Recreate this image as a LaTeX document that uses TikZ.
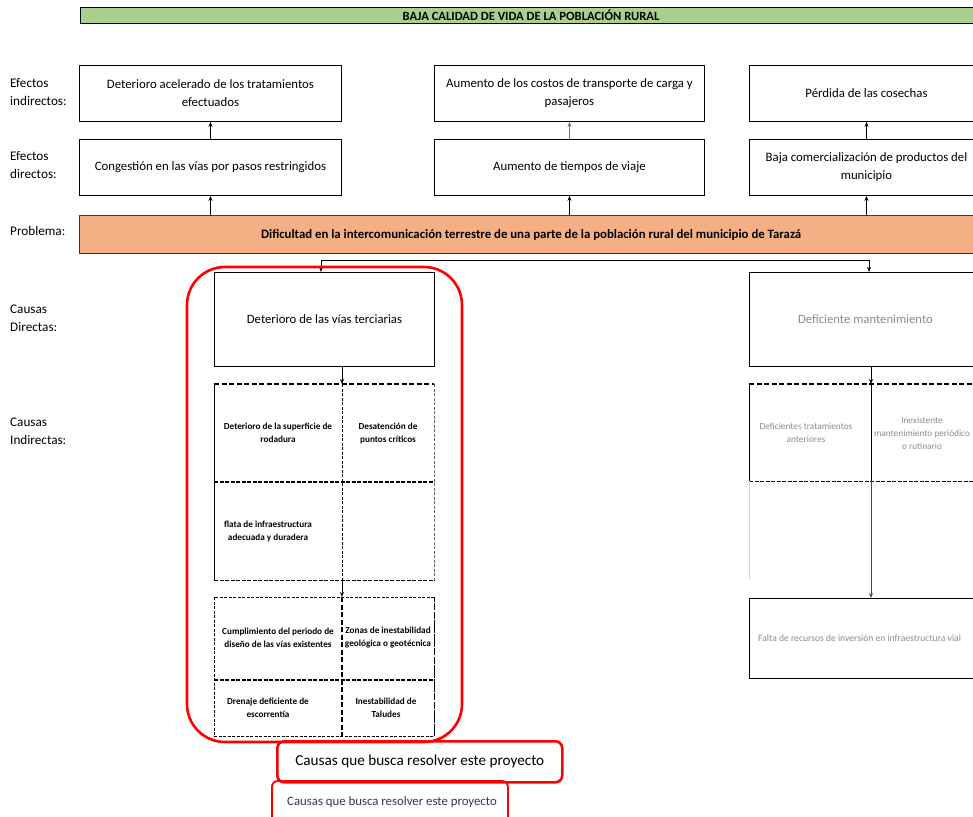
\documentclass[tikz,border=0pt]{standalone}
\usepackage{fontspec}
\setmainfont{Carlito}
\usetikzlibrary{arrows.meta}
\definecolor{hdrgreen}{RGB}{169,208,142}
\definecolor{probfill}{RGB}{244,176,132}
\definecolor{probline}{RGB}{192,0,0}
\definecolor{fadetext}{RGB}{140,140,140}
\definecolor{bluetext}{RGB}{45,55,95}
\definecolor{framered}{RGB}{255,0,0}
\begin{document}
\begin{tikzpicture}[x=1pt,y=-1pt,
  box/.style={draw, line width=0.9pt, align=center, inner sep=2pt, anchor=north west,
    font=\fontsize{12.8}{18}\selectfont},
  ghost/.style={draw=none, anchor=north west, inner sep=0pt},
  lbl/.style={anchor=west, align=left, inner sep=0pt, font=\fontsize{13.2}{18}\selectfont},
  cell/.style={align=center, inner sep=0pt, font=\fontsize{9.2}{13}\selectfont\bfseries},
  gcell/.style={align=center, inner sep=0pt, text=fadetext, font=\fontsize{9.3}{13}\selectfont},
  arr/.style={-{Stealth[length=5pt,width=4pt]}, line width=0.8pt},
  thickdash/.style={line width=1.6pt, dash pattern=on 5pt off 2.5pt},
  middash/.style={line width=1.1pt, dash pattern=on 4pt off 1.5pt},
  finedash/.style={line width=0.8pt, dash pattern=on 3pt off 1.5pt},
  redframe/.style={draw=framered, line width=2.6pt}
]
\useasboundingbox[fill=white] (0,0) rectangle (973,816);

% header
\node[box, fill=hdrgreen, line width=1.2pt, minimum width=900, minimum height=16] (hdr) at (80,7) {};
\node[font=\fontsize{12.6}{13}\selectfont\bfseries, inner sep=0pt] (hdrt) at (531,15.5) {BAJA CALIDAD DE VIDA DE LA POBLACIÓN RURAL};

% row labels
\node[lbl] (l1) at (10,92) {Efectos\\indirectos:};
\node[lbl] (l2) at (10,165) {Efectos\\directos:};
\node[lbl] (l3) at (10,231) {Problema:};
\node[lbl] (l4) at (10,318) {Causas\\Directas:};
\node[lbl] (l5) at (10,431) {Causas\\Indirectas:};

% effects
\node[box, minimum width=262, minimum height=56] (ei1) at (79,65) {Deterioro acelerado de los tratamientos\\efectuados};
\node[box, minimum width=270, minimum height=56] (ei2) at (434,65) {Aumento de los costos de transporte de carga y\\pasajeros};
\node[box, minimum width=234, minimum height=56] (ei3) at (749,65) {Pérdida de las cosechas};
\node[box, minimum width=262, minimum height=56] (ed1) at (79,139) {Congestión en las vías por pasos restringidos};
\node[box, minimum width=270, minimum height=56] (ed2) at (434,139) {Aumento de tiempos de viaje};
\node[box, minimum width=234, minimum height=56] (ed3) at (749,139) {Baja comercialización de productos del\\municipio};

% problem
\node[box, fill=probfill, draw=probline, line width=1.2pt, minimum width=903, minimum height=38,
  font=\fontsize{12.8}{14}\selectfont\bfseries] (prob) at (79,215)
  {Dificultad en la intercomunicación terrestre de una parte de la población rural del municipio de Tarazá};

\draw[arr] (ed1.north) -- (ei1.south);
\draw[arr, draw=black!55] (ed2.north) -- (ei2.south);
\draw[arr] (ed3.north) -- (ei3.south);
\draw[arr] (ed1.south |- prob.north) -- (ed1.south);
\draw[arr] (ed2.south |- prob.north) -- (ed2.south);
\draw[arr] (ed3.south |- prob.north) -- (ed3.south);

% direct causes
\node[box, minimum width=220, minimum height=94, font=\fontsize{12.7}{15}\selectfont] (dcl) at (214,272) {Deterioro de las vías terciarias};
\node[box, minimum width=232, minimum height=94, text=fadetext, font=\fontsize{12.7}{15}\selectfont] (dcr) at (749,272) {Deficiente mantenimiento};

\coordinate (jl) at (321,260);
\coordinate (jr) at (869,260);
\draw[line width=0.8pt] (jl) -- (jr);
\draw[arr] (jl) -- (jl |- dcl.north);
\draw[arr] (jr) -- (jr |- dcr.north);

% left indirect grid 1
\node[ghost, minimum width=220, minimum height=196] (g1) at (214,384) {};
\coordinate (g1m) at (342,384);
\draw[line width=1pt] (g1.north west) -- (g1.south west);
\draw[finedash, draw=black!60] (g1.north east) -- (g1.south east);
\draw[thickdash] (g1.north west) -- (g1.north east);
\draw[middash] (g1.south west) -- (g1.south east);
\draw[middash] (214,482) -- (434,482);
\draw[finedash] (g1m) -- (g1m |- g1.south);
\node[cell] (c11) at (278,433) {Deterioro de la superficie de\\rodadura};
\node[cell] (c12) at (388,433) {Desatención de\\puntos críticos};
\node[cell] (c21) at (268,531) {flata de infraestructura\\adecuada y duradera};
\draw[arr] (g1m |- dcl.south) -- (g1m);

% left indirect grid 2
\node[ghost, minimum width=220, minimum height=139] (g2) at (214,597) {};
\coordinate (g2m) at (342,597);
\draw[finedash] (g2.north west) rectangle (g2.south east);
\draw[thickdash] (g2m) -- (g2m |- g2.south);
\draw[middash] (214,680) -- (434,680);
\draw[thickdash] (g2.north east) -- (g2.south east);
\node[cell] (d11) at (278,638) {Cumplimiento del periodo de\\diseño de las vías existentes};
\node[cell] (d12) at (388,638) {Zonas de inestabilidad\\geológica o geotécnica};
\node[cell] (d21) at (268,708) {Drenaje deficiente de\\escorrentía};
\node[cell] (d22) at (386,708) {Inestabilidad de\\Taludes};
\draw[arr] (g2m |- g1.south) -- (g2m);

% right indirect grid
\node[ghost, minimum width=232, minimum height=97] (gr) at (749,384) {};
\coordinate (grm) at (871,384);
\draw[thickdash] (gr.north west) -- (gr.north east);
\draw[middash] (gr.south west) -- (gr.south east);
\draw[line width=1pt] (gr.north west) -- (gr.south west);
\draw[line width=1pt] (grm) -- (grm |- gr.south);
\draw[line width=0.8pt, draw=black!15] (gr.south west) -- ++(0,99);
\node[gcell] (r1) at (806,433) {Deficientes tratamientos\\anteriores};
\node[gcell] (r2) at (922,433) {Inexistente\\mantenimiento periódico\\o rutinario};
\draw[arr] (grm |- dcr.south) -- (grm);

\node[box, minimum width=232, minimum height=80] (fr) at (749,598) {};
\node[gcell, anchor=west, font=\fontsize{9.6}{11}\selectfont] (frt) at (758,638) {Falta de recursos de inversión en infraestructura vial};
\draw[arr, draw=black!70] (grm |- gr.south) -- (grm |- fr.north);

% red frames
\draw[redframe, rounded corners=38pt] (187,267) rectangle (462,742);
\node[draw=framered, line width=2.6pt, rounded corners=7pt, minimum width=285, minimum height=41,
  anchor=north west, font=\fontsize{15.2}{17}\selectfont] (rb1) at (276,740) {Causas que busca resolver este proyecto};
\node[draw=framered, line width=1.8pt, rounded corners=6pt, minimum width=236, minimum height=50,
  anchor=north west, inner sep=0pt] (rb2) at (271,780) {};
\node[text=bluetext, font=\fontsize{12.8}{14}\selectfont, inner sep=0pt] (rb2t) at (392,802) {Causas que busca resolver este proyecto};
\end{tikzpicture}
\end{document}
